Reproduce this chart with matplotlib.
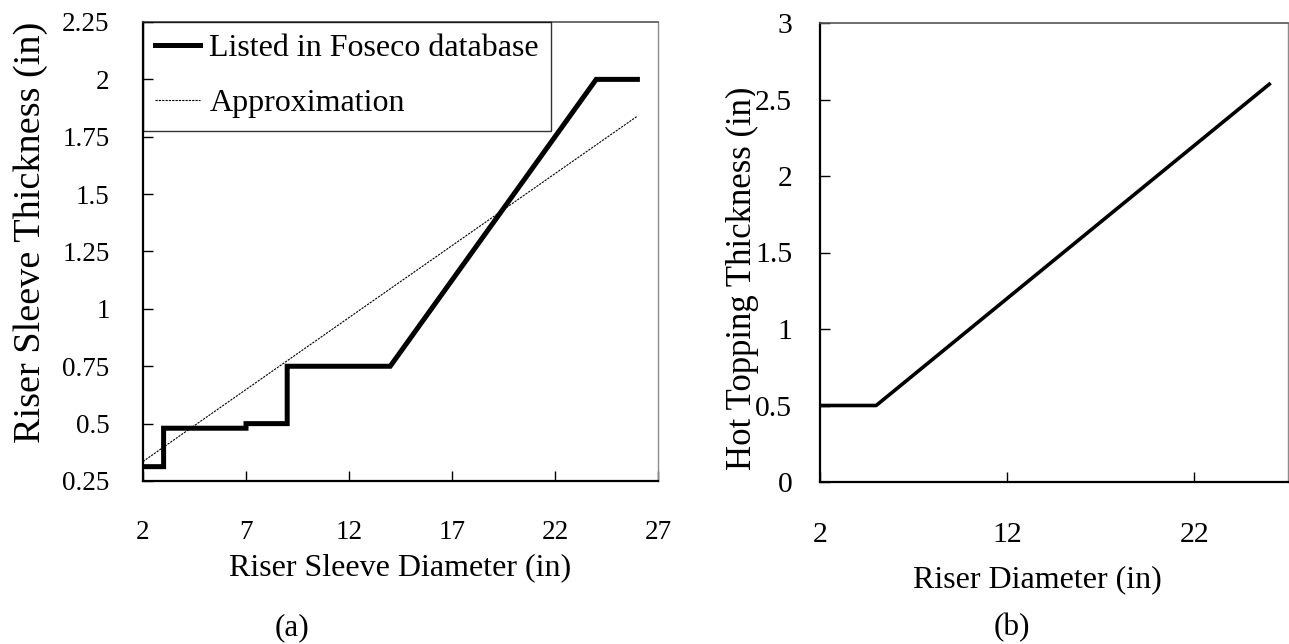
import numpy as np
import matplotlib.pyplot as plt

plt.rcParams['font.family'] = ['Liberation Serif', 'DejaVu Serif']

# (a) riser sleeve thickness listed by Foseco, stepped
sleeve_dia = [2, 3, 3, 7, 7, 9, 9, 14, 24, 26]
sleeve_thk = [0.3125, 0.3125, 0.48, 0.48, 0.5, 0.5, 0.75, 0.75, 2.0, 2.0]
# linear approximation
approx_dia = [2, 26]
approx_thk = [0.335, 1.84]

# (b) hot topping thickness
riser_dia = [2, 3, 4, 5, 6, 7, 8, 9, 10, 11, 12, 13, 14, 15, 16, 17, 18, 19, 20,
             21, 22, 23, 24, 25, 26]
topping_thk = [0.5, 0.5, 0.5, 0.5, 0.6, 0.7, 0.8, 0.9, 1.0, 1.1, 1.2, 1.3, 1.4,
               1.5, 1.6, 1.7, 1.8, 1.9, 2.0, 2.1, 2.2, 2.3, 2.4, 2.5, 2.6]

fig = plt.figure(figsize=(12.89, 6.44), dpi=100)
ax1 = fig.add_axes([143/1289, (644-481)/644, 515/1289, 459/644])
ax2 = fig.add_axes([820/1289, (644-482)/644, 468/1289, 459/644])


def style(ax):
    for s in ['left', 'bottom']:
        ax.spines[s].set_color('black')
        ax.spines[s].set_linewidth(1.6)
    ax.spines['top'].set_color('#555555')
    ax.spines['top'].set_linewidth(1.2)
    ax.spines['right'].set_color('#8c8c8c')
    ax.spines['right'].set_linewidth(1.0)
    ax.tick_params(direction='in', length=7, width=1, top=False, right=False)


ax1.plot(sleeve_dia, sleeve_thk, color='black', lw=3.6, solid_joinstyle='miter',
         label='Listed in Foseco database')
ax1.plot(approx_dia, approx_thk, color='black', lw=0.8, dashes=(2, 1),
         label='Approximation')
ax1.set_xlim(2, 27)
ax1.set_ylim(0.25, 2.25)
ax1.set_xticks([2, 7, 12, 17, 22, 27])
ax1.set_yticks([0.25, 0.5, 0.75, 1, 1.25, 1.5, 1.75, 2, 2.25])
ax1.set_yticklabels(['0.25', '0.5', '0.75', '1', '1.25', '1.5', '1.75', '2', '2.25'])
style(ax1)
ax1.tick_params(axis='x', labelsize=19.5, pad=28)
ax1.tick_params(axis='y', labelsize=19.5, pad=24)
ax1.set_xlabel('Riser Sleeve Diameter (in)', fontsize=23, va='center')
ax1.xaxis.set_label_coords(0.5, -0.19)
ax1.set_ylabel('Riser Sleeve Thickness (in)', fontsize=27.5, va='center')
ax1.yaxis.set_label_coords(-0.2175, 0.541)
leg = ax1.legend(loc='upper left', fontsize=23, frameon=True, fancybox=False,
                 borderaxespad=0, borderpad=0.38, handlelength=1.4,
                 handletextpad=0.3, labelspacing=0.8)
leg.get_frame().set_edgecolor('black')
leg.get_frame().set_linewidth(1.0)
leg.get_frame().set_facecolor('none')

ax2.plot(riser_dia, topping_thk, color='black', lw=2.6)
ax2.set_xlim(2, 27)
ax2.set_ylim(0, 3)
ax2.set_xticks([2, 12, 22])
ax2.set_yticks([0, 0.5, 1, 1.5, 2, 2.5, 3])
ax2.set_yticklabels(['0', '0.5', '1', '1.5', '2', '2.5', '3'])
style(ax2)
ax2.tick_params(axis='x', labelsize=21.5, pad=28.5)
ax2.tick_params(axis='y', labelsize=21.3, pad=20)
ax2.set_xlabel('Riser Diameter (in)', fontsize=23, va='center')
ax2.xaxis.set_label_coords(0.4637, -0.2135)
# y title sits under the tick labels, which mask its descenders
ax2.text(-0.165, 0.444, 'Hot Topping Thickness (in)', transform=ax2.transAxes,
         rotation=90, ha='center', va='center', fontsize=25, zorder=1,
         clip_on=False)
for t in ax2.get_yticklabels():
    t.set_bbox(dict(facecolor='white', edgecolor='none', pad=0))

fig.text(292/1289, 1 - 628/644, '(a)', fontsize=22.5, ha='center', va='center')
fig.text(1012/1289, 1 - 628/644, '(b)', fontsize=22.5, ha='center', va='center')

fig.savefig('out.png', dpi=100)
